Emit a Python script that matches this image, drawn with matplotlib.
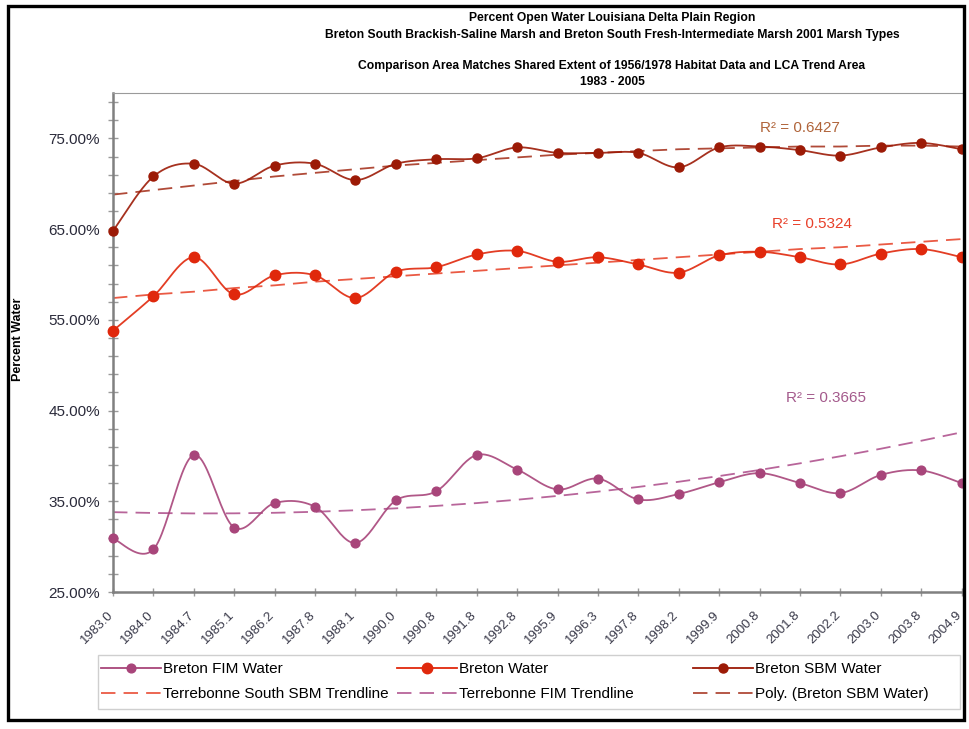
import numpy as np
import matplotlib
matplotlib.use("Agg")
import matplotlib.pyplot as plt
import matplotlib.transforms as mtransforms
from matplotlib.lines import Line2D
from matplotlib.patches import Rectangle
from matplotlib.ticker import FixedLocator, FuncFormatter

plt.rcParams["font.family"] = ["Liberation Sans", "DejaVu Sans"]

# survey dates (category axis)
years = ["1983.0", "1984.0", "1984.7", "1985.1", "1986.2", "1987.8", "1988.1",
         "1990.0", "1990.8", "1991.8", "1992.8", "1995.9", "1996.3", "1997.8",
         "1998.2", "1999.9", "2000.8", "2001.8", "2002.2", "2003.0", "2003.8",
         "2004.9", "2005.8"]

fim_water = [30.9, 29.7, 40.1, 32.1, 34.8, 34.4, 30.4, 35.1, 36.1, 40.1, 38.5,
             36.3, 37.5, 35.2, 35.8, 37.1, 38.1, 37.0, 35.9, 37.9, 38.4, 37.0]
breton_water = [53.8, 57.6, 61.9, 57.8, 59.9, 59.9, 57.4, 60.3, 60.8, 62.2, 62.6,
                61.4, 61.9, 61.1, 60.2, 62.1, 62.5, 61.9, 61.1, 62.3, 62.8, 61.9]
sbm_water = [64.8, 70.8, 72.2, 70.0, 72.0, 72.2, 70.4, 72.2, 72.7, 72.8, 74.0,
             73.4, 73.4, 73.4, 71.8, 74.0, 74.1, 73.7, 73.1, 74.0, 74.5, 73.8]

# trendlines
ts_sbm_trend = [57.4, 57.8, 58.1, 58.5, 58.8, 59.2, 59.5, 59.8, 60.1, 60.4, 60.7,
                61.0, 61.3, 61.6, 61.9, 62.2, 62.5, 62.8, 63.0, 63.3, 63.6, 63.9]
tfim_trend = [33.80, 33.71, 33.66, 33.67, 33.73, 33.84, 34.01, 34.22, 34.49, 34.80,
              35.17, 35.59, 36.06, 36.58, 37.15, 37.78, 38.45, 39.18, 39.96, 40.79,
              41.67, 42.60]
sbm_poly = [68.8, 69.3, 69.8, 70.3, 70.8, 71.2, 71.6, 72.0, 72.3, 72.6, 72.9,
            73.2, 73.4, 73.6, 73.8, 73.9, 74.0, 74.1, 74.1, 74.2, 74.2, 74.1]

r2_labels = ["R\u00b2 = 0.6427", "R\u00b2 = 0.5324", "R\u00b2 = 0.3665"]

C_FIM = "#a8457a"
C_RED = "#e0280c"
C_SBM = "#9c1a06"
C_FIM_T = "#b8659a"
C_RED_T = "#ea5a44"
C_SBM_T = "#b04a38"

W, H = 969, 729


def fx(px):
    return px / W


def fy(py):
    return 1 - py / H


def smooth(y, n=24):
    # Excel-style smoothed line (cubic bezier through the points)
    P = np.column_stack([np.arange(len(y), dtype=float), np.asarray(y, float)])
    E = np.vstack([P[0], P, P[-1]])
    t = np.linspace(0, 1, n, endpoint=False)[:, None]
    segs = []
    for k in range(len(P) - 1):
        p0, p1, p2, p3 = E[k], E[k + 1], E[k + 2], E[k + 3]
        c1 = p1 + (p2 - p0) / 6
        c2 = p2 - (p3 - p1) / 6
        segs.append((1 - t) ** 3 * p1 + 3 * (1 - t) ** 2 * t * c1
                    + 3 * (1 - t) * t ** 2 * c2 + t ** 3 * p2)
    segs.append(P[-1:])
    S = np.vstack(segs)
    return S[:, 0], S[:, 1]


fig = plt.figure(figsize=(W / 100, H / 100), dpi=100)
fig.patch.set_facecolor("white")

# axes run on past the right border: the original is cropped there
left, right, top, bottom = 113, 1002, 93, 592
ax = fig.add_axes([fx(left), fy(bottom), fx(right - left), (bottom - top) / H])
x = np.arange(len(sbm_water))

dash = (0, (8, 4.5))
ax.plot(x, ts_sbm_trend, color=C_RED_T, lw=1.3, linestyle=dash, zorder=2)
ax.plot(x, tfim_trend, color=C_FIM_T, lw=1.3, linestyle=dash, zorder=2)
ax.plot(x, sbm_poly, color=C_SBM_T, lw=1.3, linestyle=dash, zorder=2)

for vals, col, ms in [(fim_water, C_FIM, 6.3), (breton_water, C_RED, 7.5),
                      (sbm_water, C_SBM, 6.5)]:
    sx, sy = smooth(vals)
    ax.plot(sx, sy, color=col, lw=1.3, alpha=0.9, zorder=3)
    ax.plot(x, vals, linestyle="none", marker="o", ms=ms, color=col, zorder=4,
            clip_on=False)

cat = np.arange(len(years))
ax.set_xticks(cat)
ax.set_xticklabels([])
ax.set_xlim(0, len(years) - 1)
ax.set_ylim(25, 80)
# category labels, slanted, ending just left of and below each tick
lab_tr = ax.get_xaxis_transform() + mtransforms.ScaledTranslation(
    -6 / 100, -12 / 72, fig.dpi_scale_trans)
for i, lab in zip(cat, years):
    ax.text(i, 0, lab, transform=lab_tr, rotation=45, ha="right", va="top",
            rotation_mode="anchor", fontsize=9.5, color="#3a3a4a", clip_on=False)
ax.tick_params(axis="x", which="major", direction="inout", length=6, width=1,
               color="#9a9a9a")
ax.yaxis.set_major_locator(FixedLocator(np.arange(25, 76, 10)))
ax.yaxis.set_minor_locator(FixedLocator(np.arange(25, 80, 2)))
ax.yaxis.set_major_formatter(FuncFormatter(lambda v, p: f"{v:.2f}%"))
ax.tick_params(axis="y", which="both", direction="inout", length=7, width=1,
               color="#9a9a9a", labelsize=11, labelcolor="#2a2a3a", pad=6)
for side in ["left", "bottom"]:
    ax.spines[side].set_color("#808080")
    ax.spines[side].set_linewidth(1.8)
ax.spines["top"].set_color("#9a9a9a")
ax.spines["top"].set_linewidth(0.8)
ax.spines["right"].set_visible(False)

fig.text(fx(18), fy(339), "Percent Water", rotation=90, ha="center", va="center",
         fontsize=9, fontweight="bold")

# title block
title_lines = [(18, "Percent Open Water Louisiana Delta Plain Region"),
               (35, "Breton South Brackish-Saline Marsh and Breton South Fresh-Intermediate Marsh 2001 Marsh Types"),
               (66, "Comparison Area Matches Shared Extent of 1956/1978 Habitat Data and LCA Trend Area"),
               (82, "1983 - 2005")]
for py, txt in title_lines:
    fig.text(fx(612), fy(py), txt, ha="center", va="center", fontsize=8.7,
             fontweight="bold")

# R-squared labels
for (px, py), txt, col in zip([(800, 128), (812, 224), (826, 398)], r2_labels,
                              ["#b0643a", "#e8402a", "#a45a8c"]):
    fig.text(fx(px), fy(py), txt, ha="center", va="center", fontsize=11, color=col)

# legend box and three columns
fig.add_artist(Rectangle((fx(98), fy(709)), fx(960 - 98), (709 - 655) / H,
                         transform=fig.transFigure, facecolor="white",
                         edgecolor="#cfcfcf", lw=1.0, zorder=1))
cols = [
    [Line2D([], [], color=C_FIM, lw=1.3, marker="o", ms=6.3),
     Line2D([], [], color=C_RED_T, lw=1.3, linestyle=dash)],
    [Line2D([], [], color=C_RED, lw=1.3, marker="o", ms=7.5),
     Line2D([], [], color=C_FIM_T, lw=1.3, linestyle=dash)],
    [Line2D([], [], color=C_SBM, lw=1.3, marker="o", ms=6.5),
     Line2D([], [], color=C_SBM_T, lw=1.3, linestyle=dash)],
]
names = [["Breton FIM Water", "Terrebonne South SBM Trendline"],
         ["Breton Water", "Terrebonne FIM Trendline"],
         ["Breton SBM Water", "Poly. (Breton SBM Water)"]]
for hx, hs, ns in zip([101, 397, 693], cols, names):
    lg = fig.legend(hs, ns, loc="upper left", bbox_to_anchor=(fx(hx), fy(662)),
                    frameon=False, fontsize=11, handlelength=3.9,
                    handletextpad=0.15, labelspacing=0.72, borderpad=0,
                    borderaxespad=0)
    lg.set_zorder(2)

# crop at the outer frame like the original screenshot
fig.add_artist(Rectangle((fx(964), 0), fx(W - 964), 1, transform=fig.transFigure,
                         facecolor="white", edgecolor="none", zorder=5))
fig.add_artist(Rectangle((fx(8), fy(720)), fx(964 - 8), (720 - 6) / H,
                         transform=fig.transFigure, facecolor="none",
                         edgecolor="black", lw=2.4, zorder=6))

fig.savefig("out.png", dpi=100, facecolor="white")
